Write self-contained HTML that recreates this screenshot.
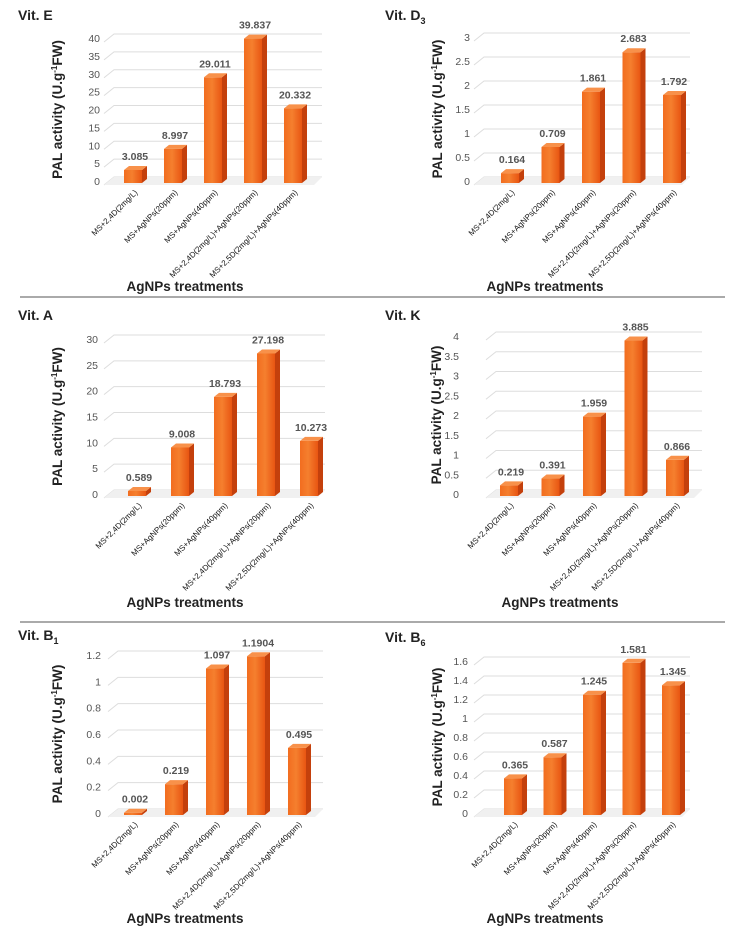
<!DOCTYPE html>
<html><head><meta charset="utf-8"><style>
body{margin:0;background:#fff;}
svg{display:block;font-family:"Liberation Sans",sans-serif;}
</style></head><body>
<svg id="c" width="743" height="937" viewBox="0 0 743 937" xmlns="http://www.w3.org/2000/svg">
<defs>
<linearGradient id="gf" x1="0" x2="1" y1="0" y2="0"><stop offset="0" stop-color="#f26d1f"/><stop offset="0.45" stop-color="#f57f2e"/><stop offset="1" stop-color="#e85512"/></linearGradient>
</defs>
<line x1="20" y1="297" x2="725" y2="297" stroke="#777" stroke-width="1.2"/>
<line x1="20" y1="622" x2="725" y2="622" stroke="#777" stroke-width="1.2"/>
</svg>
<script>
const categories=["MS+2,4D(2mg/L)","MS+AgNPs(20ppm)","MS+AgNPs(40ppm)","MS+2,4D(2mg/L)+AgNPs(20ppm)","MS+2,5D(2mg/L)+AgNPs(40ppm)"];
const vitEValues=[3.085,8.997,29.011,39.837,20.332];
const vitEValueLabels=["3.085","8.997","29.011","39.837","20.332"];
const vitETicks=[0,5,10,15,20,25,30,35,40];
const vitD3Values=[0.164,0.709,1.861,2.683,1.792];
const vitD3ValueLabels=["0.164","0.709","1.861","2.683","1.792"];
const vitD3Ticks=[0,0.5,1,1.5,2,2.5,3];
const vitAValues=[0.589,9.008,18.793,27.198,10.273];
const vitAValueLabels=["0.589","9.008","18.793","27.198","10.273"];
const vitATicks=[0,5,10,15,20,25,30];
const vitKValues=[0.219,0.391,1.959,3.885,0.866];
const vitKValueLabels=["0.219","0.391","1.959","3.885","0.866"];
const vitKTicks=[0,0.5,1,1.5,2,2.5,3,3.5,4];
const vitB1Values=[0.002,0.219,1.097,1.1904,0.495];
const vitB1ValueLabels=["0.002","0.219","1.097","1.1904","0.495"];
const vitB1Ticks=[0,0.2,0.4,0.6,0.8,1,1.2];
const vitB6Values=[0.365,0.587,1.245,1.581,1.345];
const vitB6ValueLabels=["0.365","0.587","1.245","1.581","1.345"];
const vitB6Ticks=[0,0.2,0.4,0.6,0.8,1,1.2,1.4,1.6];

const NS="http://www.w3.org/2000/svg";
const svg=document.getElementById('c');
function mk(tag,attrs,parent,text){const e=document.createElementNS(NS,tag);for(const k in attrs)e.setAttribute(k,attrs[k]);if(text!==undefined)e.textContent=text;(parent||svg).appendChild(e);return e;}

function panel(cfg){
  const g=mk('g',{});
  
  
  const max=cfg.ticks[cfg.ticks.length-1];
  const y=v=>cfg.y0-(v/max)*(cfg.y0-cfg.yTop);
  const x=i=>cfg.x0+i*cfg.step;
  const t=mk('text',{x:cfg.tx,y:cfg.ty,'font-size':14,'font-weight':'bold',fill:'#222'},g,cfg.title);
  
  
  if(cfg.sub){mk('tspan',{'font-size':9,dy:4},t,cfg.sub);}
  cfg.ticks.forEach(v=>{
    const yy=y(v);
    const gl=mk('polyline',{points:`${cfg.gl} ${yy+4} ${cfg.gl+10} ${yy-4} ${cfg.gr} ${yy-4}`,fill:'none',stroke:'#ddd','stroke-width':1},g);
    
    
    const tl=mk('text',{x:cfg.lx,y:yy+4,'text-anchor':'end','font-size':10.5,fill:'#555'},g,String(v));
    
    
  });
  mk('polygon',{points:`${cfg.gl} ${cfg.y0+4} ${cfg.gl+10} ${cfg.y0-4} ${cfg.gr} ${cfg.y0-4} ${cfg.gr-8} ${cfg.y0+4}`,fill:'#f0f0f0'},g);
  const bw=18,dx=5,dy=4;
  cfg.values.forEach((v,i)=>{
    const cx=x(i),left=cx-bw/2,yt=y(v),yb=cfg.y0+2;
    const bg=mk('g',{},g);
    
    
    mk('rect',{x:left,y:yt,width:bw,height:Math.max(0,yb-yt),fill:'url(#gf)'},bg);
    mk('polygon',{points:`${left+bw} ${yt} ${left+bw+dx} ${yt-dy} ${left+bw+dx} ${yb-dy} ${left+bw} ${yb}`,fill:'#c4400c'},bg);
    mk('polygon',{points:`${left} ${yt} ${left+dx} ${yt-dy} ${left+bw+dx} ${yt-dy} ${left+bw} ${yt}`,fill:'#f8914a'},bg);
    const vl=mk('text',{x:cx+2,y:yt-10,'text-anchor':'middle','font-size':10.5,'font-weight':'bold',fill:'#555'},g,cfg.labels[i]);
    
    
    const cl=mk('text',{x:cx+5,y:cfg.y0+12,'text-anchor':'end','font-size':8,fill:'#111',transform:`rotate(-45 ${cx+5} ${cfg.y0+12})`},g,categories[i]);
    
    
  });
  const yc=(cfg.y0+cfg.yTop)/2;
  const yt=mk('text',{x:cfg.ytx,y:yc,'text-anchor':'middle','font-size':13.5,'font-weight':'bold',fill:'#222',transform:`rotate(-90 ${cfg.ytx} ${yc})`},g);
  
  
  mk('tspan',{},yt,'PAL activity (U.g');
  mk('tspan',{'font-size':8,dy:-5},yt,'-1');
  mk('tspan',{dy:5},yt,'FW)');
  const xt=mk('text',{x:cfg.xtx,y:cfg.xty,'text-anchor':'middle','font-size':13.5,'font-weight':'bold',fill:'#222'},g,'AgNPs treatments');
  
  
}
panel({name:'chart-vit-e',title:'Vit. E',tx:18,ty:20,values:vitEValues,labels:vitEValueLabels,ticks:vitETicks,y0:181,yTop:38,x0:133,step:40,gl:104,gr:322,lx:100,ytx:62,xtx:185,xty:291});
panel({name:'chart-vit-d3',title:'Vit. D',sub:'3',tx:385,ty:20,values:vitD3Values,labels:vitD3ValueLabels,ticks:vitD3Ticks,y0:181,yTop:37,x0:510,step:40.5,gl:474,gr:690,lx:470,ytx:442,xtx:545,xty:291});
panel({name:'chart-vit-a',title:'Vit. A',tx:18,ty:320,values:vitAValues,labels:vitAValueLabels,ticks:vitATicks,y0:494,yTop:339,x0:137,step:43,gl:104,gr:325,lx:98,ytx:62,xtx:185,xty:607});
panel({name:'chart-vit-k',title:'Vit. K',tx:385,ty:320,values:vitKValues,labels:vitKValueLabels,ticks:vitKTicks,y0:494,yTop:336,x0:509,step:41.5,gl:486,gr:702,lx:459,ytx:441,xtx:560,xty:607});
panel({name:'chart-vit-b1',title:'Vit. B',sub:'1',tx:18,ty:640,values:vitB1Values,labels:vitB1ValueLabels,ticks:vitB1Ticks,y0:813,yTop:655,x0:133,step:41,gl:108,gr:323,lx:101,ytx:62,xtx:185,xty:923});
panel({name:'chart-vit-b6',title:'Vit. B',sub:'6',tx:385,ty:642,values:vitB6Values,labels:vitB6ValueLabels,ticks:vitB6Ticks,y0:813,yTop:661,x0:513,step:39.5,gl:474,gr:690,lx:468,ytx:442,xtx:545,xty:923});
</script>
</body></html>
